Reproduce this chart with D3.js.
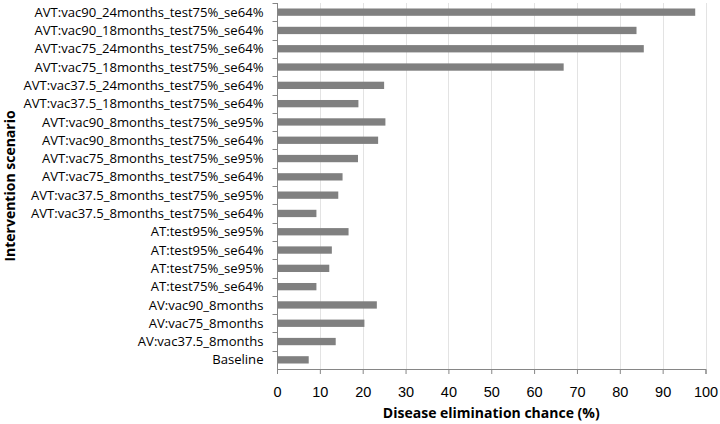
<!DOCTYPE html>
<html>
<head>
<meta charset="utf-8">
<script src="https://cdn.jsdelivr.net/npm/d3@7"></script>
<style>
  body { margin: 0; background: #fff; }
  svg { font-family: "Open Sans", sans-serif; }
</style>
</head>
<body>
<svg width="720" height="424"></svg>
<script>
const scenarios = [
  "AVT:vac90_24months_test75%_se64%",
  "AVT:vac90_18months_test75%_se64%",
  "AVT:vac75_24months_test75%_se64%",
  "AVT:vac75_18months_test75%_se64%",
  "AVT:vac37.5_24months_test75%_se64%",
  "AVT:vac37.5_18months_test75%_se64%",
  "AVT:vac90_8months_test75%_se95%",
  "AVT:vac90_8months_test75%_se64%",
  "AVT:vac75_8months_test75%_se95%",
  "AVT:vac75_8months_test75%_se64%",
  "AVT:vac37.5_8months_test75%_se95%",
  "AVT:vac37.5_8months_test75%_se64%",
  "AT:test95%_se95%",
  "AT:test95%_se64%",
  "AT:test75%_se95%",
  "AT:test75%_se64%",
  "AV:vac90_8months",
  "AV:vac75_8months",
  "AV:vac37.5_8months",
  "Baseline"
];
const chances = [97.6, 83.9, 85.6, 66.9, 25.0, 19.0, 25.3, 23.6, 18.9, 15.3,
                 14.3, 9.2, 16.7, 12.8, 12.2, 9.2, 23.3, 20.4, 13.7, 7.4];
const xTicks = [0, 10, 20, 30, 40, 50, 60, 70, 80, 90, 100];

const margin = {top: 3, right: 15, bottom: 55, left: 277};
const width = 720, height = 424;
const svg = d3.select("svg");

const x = d3.scaleLinear().domain([0, 100]).range([margin.left, width - margin.right + 0.5]);
const y = d3.scaleBand().domain(scenarios).range([margin.top, height - margin.bottom]).paddingInner(0.6).paddingOuter(0.3);
const yb = d3.scaleBand().domain(scenarios).range([margin.top, height - margin.bottom]);

// gridlines
svg.append("g")
  .selectAll("line")
  .data(xTicks.slice(1))
  .join("line")
    .attr("x1", d => Math.round(x(d)) + 0.5)
    .attr("x2", d => Math.round(x(d)) + 0.5)
    .attr("y1", margin.top)
    .attr("y2", height - margin.bottom)
    .attr("stroke", "#e3e3e3");

// bars
svg.append("g")
  .selectAll("rect")
  .data(scenarios)
  .join("rect")
    .attr("x", x(0))
    .attr("y", d => y(d))
    .attr("width", (d, i) => x(chances[i]) - x(0))
    .attr("height", y.bandwidth())
    .attr("fill", "#808080");

// x axis
const xAxis = svg.append("g")
  .attr("transform", `translate(0,${height - margin.bottom})`)
  .call(d3.axisBottom(x).tickValues(xTicks).tickSize(5).tickPadding(13));
xAxis.select(".domain").attr("stroke", "#868686");
xAxis.selectAll(".tick line").attr("stroke", "#868686");
xAxis.selectAll(".tick text").attr("font-size", 14.5).attr("fill", "#000");

// y axis with ticks on band boundaries
const yAxis = svg.append("g")
  .attr("transform", `translate(${Math.round(x(0)) + 0.5},0)`);
yAxis.append("line")
  .attr("y1", margin.top).attr("y2", height - margin.bottom)
  .attr("stroke", "#868686");
yAxis.selectAll(".tk")
  .data(scenarios)
  .join("line")
    .attr("class", "tk")
    .attr("x1", -5).attr("x2", 0)
    .attr("y1", d => Math.round(yb(d)) + 0.5)
    .attr("y2", d => Math.round(yb(d)) + 0.5)
    .attr("stroke", "#868686");
yAxis.selectAll("text")
  .data(scenarios)
  .join("text")
    .attr("x", -14)
    .attr("y", d => yb(d) + yb.bandwidth() / 2)
    .attr("dy", "0.35em")
    .attr("text-anchor", "end")
    .attr("font-size", 13.1)
    .text(d => d);

// axis titles
svg.append("text")
  .attr("x", (x(0) + x(100)) / 2)
  .attr("y", 418)
  .attr("text-anchor", "middle")
  .attr("font-size", 14)
  .attr("font-weight", "bold")
  .text("Disease elimination chance (%)");

svg.append("text")
  .attr("transform", `translate(15,${(margin.top + height - margin.bottom) / 2}) rotate(-90)`)
  .attr("text-anchor", "middle")
  .attr("font-size", 14)
  .attr("font-weight", "bold")
  .text("Intervention scenario");
</script>
</body>
</html>
